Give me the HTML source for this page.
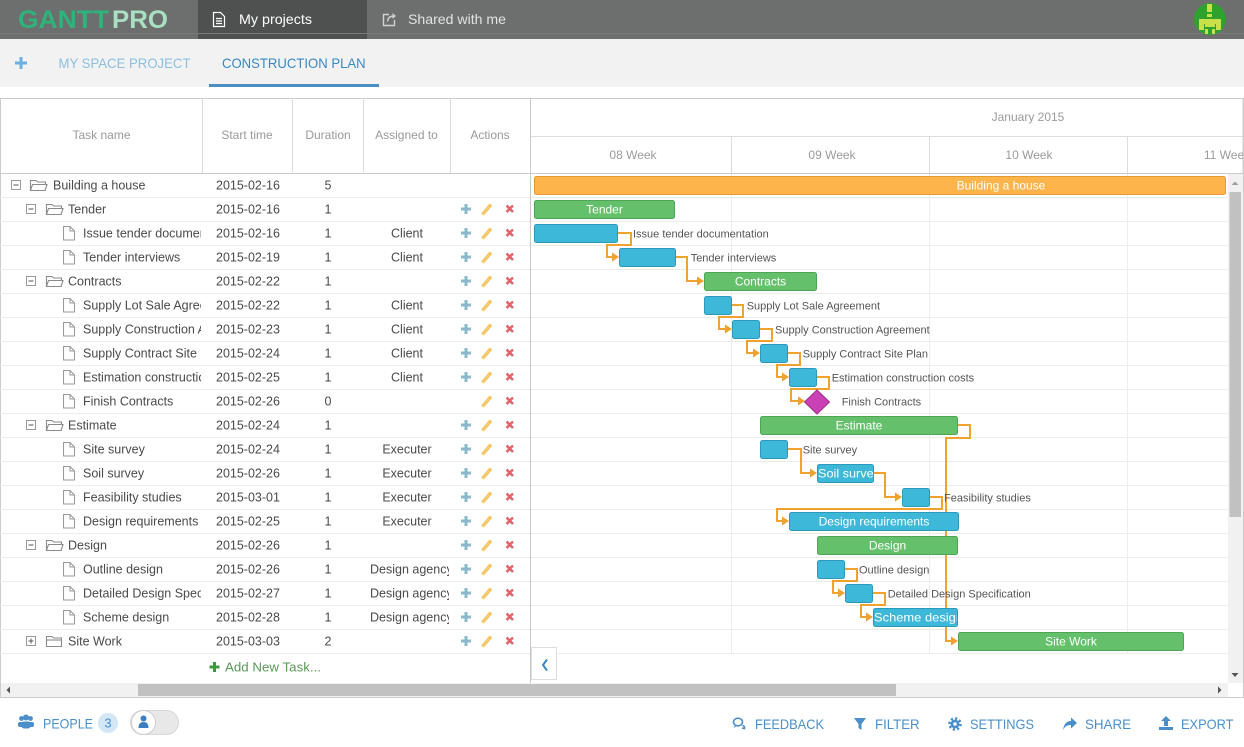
<!DOCTYPE html>
<html><head><meta charset="utf-8">
<style>
html,body{margin:0;padding:0;background:#fff;}
body{width:1244px;height:747px;overflow:hidden;}
svg{display:block;font-family:"Liberation Sans",Arial,sans-serif;}
.t{font-size:12.5px;fill:#4a4a4a}
.h{font-size:12px;fill:#9a9a9a}
.gl{font-size:11px;fill:#555}
.bt{font-size:12px;fill:#fff}
.tb{font-size:14px;fill:#4a8fca}
</style></head><body>
<svg width="1244" height="747" viewBox="0 0 1244 747" xmlns="http://www.w3.org/2000/svg">
<defs>
 <clipPath id="cName"><rect x="0" y="174" width="201" height="480"/></clipPath>
 <clipPath id="cAsg"><rect x="364" y="174" width="85" height="480"/></clipPath>
 <clipPath id="cGantt"><rect x="531" y="99" width="712" height="584"/></clipPath>
 <clipPath id="cSoil"><rect x="817" y="464" width="56.5" height="19"/></clipPath>
 <clipPath id="cScheme"><rect x="873" y="608" width="84" height="19"/></clipPath>
 <g id="file"><path d="M-5.5,-6.5 H1 L5.5,-2 V7 H-5.5 Z M1,-6.5 V-2 H5.5" fill="#fff" stroke="#9a9a9a" stroke-width="1.1" stroke-linejoin="round"/></g>
 <g id="fopen" fill="none" stroke="#8a8a8a" stroke-width="1.1"><path d="M0.5,5.5 V-4.5 H6 L7.5,-3 H15.5 V-0.5"/><path d="M0.5,5.5 L2.5,-0.5 H17 L15,5.5 Z"/></g>
 <g id="fclosed" fill="none" stroke="#8a8a8a" stroke-width="1.1"><path d="M0.5,5.5 V-4.5 H6 L7.5,-3 H15.5 V5.5 Z"/><path d="M0.5,-1 H15.5"/></g>
 <g id="tminus"><rect x="-4.5" y="-4.5" width="9" height="9" fill="#fff" stroke="#9a9a9a"/><path d="M-2.5,0 H2.5" stroke="#555"/></g>
 <g id="tplus"><rect x="-4.5" y="-4.5" width="9" height="9" fill="#fff" stroke="#9a9a9a"/><path d="M-2.5,0 H2.5 M0,-2.5 V2.5" stroke="#555"/></g>
 <g id="px">
  <path d="M482.5,5.5 L491,-4.5" stroke="#f6c66c" stroke-width="3.5"/>
  <path d="M506.5,-3.5 L513,3 M513,-3.5 L506.5,3" stroke="#e8626c" stroke-width="2.6"/>
 </g>
 <g id="act">
  <path d="M461,0 H471 M466,-5 V5" stroke="#8cb8cb" stroke-width="3"/>
  <use href="#px"/>
 </g>
</defs>

<!-- top bar -->
<rect x="0" y="0" width="1244" height="39" fill="#6d6f6f"/>
<rect x="198" y="0" width="169" height="39" fill="#4f5050"/>
<rect x="0" y="33" width="1244" height="1" fill="#787a7a"/>
<text x="18" y="28" font-size="25" font-weight="bold" fill="#2db37b" textLength="91" lengthAdjust="spacingAndGlyphs">GANTT</text>
<text x="112" y="28" font-size="25" font-weight="bold" fill="#a9dfc2" textLength="56" lengthAdjust="spacingAndGlyphs">PRO</text>
<g fill="none" stroke="#fff" stroke-width="1.2"><path d="M213.5,12.5 H220.5 L224.5,16.5 V26.5 H213.5 Z"/><path d="M216,18.5 H222 M216,21 H222 M216,23.5 H222"/></g>
<text x="239" y="24" font-size="14" fill="#fff" textLength="73" lengthAdjust="spacingAndGlyphs">My projects</text>
<g fill="none" stroke="#d0d0d0" stroke-width="1.4"><path d="M389,14.5 H383.5 V25.5 H394.5 V20"/><path d="M387.5,21.5 Q388,16 394,16"/></g>
<path d="M392.5,13 L396,16 L392.5,19 Z" fill="#d0d0d0"/>
<text x="408" y="24" font-size="14" fill="#e2e2e2" textLength="98" lengthAdjust="spacingAndGlyphs">Shared with me</text>
<circle cx="1210" cy="19" r="16" fill="#2fa12f"/>
<g fill="#c8e04a"><rect x="1207" y="4" width="5" height="8"/><rect x="1207" y="14" width="5" height="3"/><rect x="1199" y="19" width="22" height="5"/><rect x="1199" y="24" width="5" height="6"/><rect x="1216" y="24" width="5" height="6"/><rect x="1205" y="24" width="10" height="3"/><rect x="1205" y="29" width="3" height="5"/><rect x="1212" y="29" width="3" height="5"/></g>

<!-- tab bar -->
<rect x="0" y="39" width="1244" height="48" fill="#f2f2f2"/>
<rect x="15" y="61.5" width="12" height="3" fill="#6fb0de"/><rect x="19.5" y="57" width="3" height="12" fill="#6fb0de"/>
<text x="58.5" y="68" font-size="14" fill="#8bbfe0" textLength="132" lengthAdjust="spacingAndGlyphs">MY SPACE PROJECT</text>
<text x="222" y="68" font-size="14" fill="#3a88c0" textLength="143.6" lengthAdjust="spacingAndGlyphs">CONSTRUCTION PLAN</text>
<rect x="209" y="84" width="170" height="3" fill="#4a90c4"/>

<!-- grid frame -->
<rect x="0.5" y="98.5" width="1242.5" height="599" fill="#fff" stroke="#cccccc"/>
<g stroke="#dddddd"><path d="M202.5,98 V173 M292.5,98 V173 M363.5,98 V173 M450.5,98 V173"/></g>
<path d="M531,136.5 H1243" stroke="#dddddd"/>
<path d="M731.5,136 V173 M929.5,136 V173 M1127.5,136 V173" stroke="#dddddd"/>
<path d="M0,173.5 H1243" stroke="#cccccc"/>
<!-- body lines -->
<g stroke="#ececec">
<path d="M731.5,174 V653 M929.5,174 V653 M1127.5,174 V653"/>
<path d="M0,197.5 H1228 M0,221.5 H1228 M0,245.5 H1228 M0,269.5 H1228 M0,293.5 H1228 M0,317.5 H1228 M0,341.5 H1228 M0,365.5 H1228 M0,389.5 H1228 M0,413.5 H1228 M0,437.5 H1228 M0,461.5 H1228 M0,485.5 H1228 M0,509.5 H1228 M0,533.5 H1228 M0,557.5 H1228 M0,581.5 H1228 M0,605.5 H1228 M0,629.5 H1228 M0,653.5 H1228"/>
</g>
<path d="M530.5,98 V683" stroke="#c8c8c8"/>

<!-- header labels -->
<text class="h" x="101.5" y="139" text-anchor="middle">Task name</text>
<text class="h" x="247" y="139" text-anchor="middle">Start time</text>
<text class="h" x="328" y="139" text-anchor="middle">Duration</text>
<text class="h" x="406.5" y="139" text-anchor="middle">Assigned to</text>
<text class="h" x="490" y="139" text-anchor="middle">Actions</text>
<g clip-path="url(#cGantt)">
<text class="h" x="1028" y="121" text-anchor="middle">January 2015</text>
<text class="h" x="633" y="159" text-anchor="middle">08 Week</text>
<text class="h" x="832" y="159" text-anchor="middle">09 Week</text>
<text class="h" x="1029" y="159" text-anchor="middle">10 Week</text>
<text class="h" x="1227" y="159" text-anchor="middle">11 Week</text>
</g>

<!-- tree icons -->
<use href="#tminus" transform="translate(16,185)"/><use href="#fopen" transform="translate(30,185)"/>
<use href="#tminus" transform="translate(31,209)"/><use href="#fopen" transform="translate(46,209)"/>
<use href="#file" transform="translate(69,233)"/>
<use href="#file" transform="translate(69,257)"/>
<use href="#tminus" transform="translate(31,281)"/><use href="#fopen" transform="translate(46,281)"/>
<use href="#file" transform="translate(69,305)"/>
<use href="#file" transform="translate(69,329)"/>
<use href="#file" transform="translate(69,353)"/>
<use href="#file" transform="translate(69,377)"/>
<use href="#file" transform="translate(69,401)"/>
<use href="#tminus" transform="translate(31,425)"/><use href="#fopen" transform="translate(46,425)"/>
<use href="#file" transform="translate(69,449)"/>
<use href="#file" transform="translate(69,473)"/>
<use href="#file" transform="translate(69,497)"/>
<use href="#file" transform="translate(69,521)"/>
<use href="#tminus" transform="translate(31,545)"/><use href="#fopen" transform="translate(46,545)"/>
<use href="#file" transform="translate(69,569)"/>
<use href="#file" transform="translate(69,593)"/>
<use href="#file" transform="translate(69,617)"/>
<use href="#tplus" transform="translate(31,641)"/><use href="#fclosed" transform="translate(46,641)"/>

<!-- names -->
<g clip-path="url(#cName)">
<text class="t" x="53" y="189.5">Building a house</text>
<text class="t" x="68" y="213.5">Tender</text>
<text class="t" x="83" y="237.5">Issue tender documentation</text>
<text class="t" x="83" y="261.5">Tender interviews</text>
<text class="t" x="68" y="285.5">Contracts</text>
<text class="t" x="83" y="309.5">Supply Lot Sale Agreement</text>
<text class="t" x="83" y="333.5">Supply Construction Agreement</text>
<text class="t" x="83" y="357.5">Supply Contract Site Plan</text>
<text class="t" x="83" y="381.5">Estimation construction costs</text>
<text class="t" x="83" y="405.5">Finish Contracts</text>
<text class="t" x="68" y="429.5">Estimate</text>
<text class="t" x="83" y="453.5">Site survey</text>
<text class="t" x="83" y="477.5">Soil survey</text>
<text class="t" x="83" y="501.5">Feasibility studies</text>
<text class="t" x="83" y="525.5">Design requirements</text>
<text class="t" x="68" y="549.5">Design</text>
<text class="t" x="83" y="573.5">Outline design</text>
<text class="t" x="83" y="597.5">Detailed Design Specification</text>
<text class="t" x="83" y="621.5">Scheme design</text>
<text class="t" x="68" y="645.5">Site Work</text>
</g>
<!-- dates -->
<g>
<text class="t" x="216" y="189.5">2015-02-16</text>
<text class="t" x="216" y="213.5">2015-02-16</text>
<text class="t" x="216" y="237.5">2015-02-16</text>
<text class="t" x="216" y="261.5">2015-02-19</text>
<text class="t" x="216" y="285.5">2015-02-22</text>
<text class="t" x="216" y="309.5">2015-02-22</text>
<text class="t" x="216" y="333.5">2015-02-23</text>
<text class="t" x="216" y="357.5">2015-02-24</text>
<text class="t" x="216" y="381.5">2015-02-25</text>
<text class="t" x="216" y="405.5">2015-02-26</text>
<text class="t" x="216" y="429.5">2015-02-24</text>
<text class="t" x="216" y="453.5">2015-02-24</text>
<text class="t" x="216" y="477.5">2015-02-26</text>
<text class="t" x="216" y="501.5">2015-03-01</text>
<text class="t" x="216" y="525.5">2015-02-25</text>
<text class="t" x="216" y="549.5">2015-02-26</text>
<text class="t" x="216" y="573.5">2015-02-26</text>
<text class="t" x="216" y="597.5">2015-02-27</text>
<text class="t" x="216" y="621.5">2015-02-28</text>
<text class="t" x="216" y="645.5">2015-03-03</text>
</g>
<!-- durations -->
<g text-anchor="middle">
<text class="t" x="328" y="189.5">5</text>
<text class="t" x="328" y="213.5">1</text>
<text class="t" x="328" y="237.5">1</text>
<text class="t" x="328" y="261.5">1</text>
<text class="t" x="328" y="285.5">1</text>
<text class="t" x="328" y="309.5">1</text>
<text class="t" x="328" y="333.5">1</text>
<text class="t" x="328" y="357.5">1</text>
<text class="t" x="328" y="381.5">1</text>
<text class="t" x="328" y="405.5">0</text>
<text class="t" x="328" y="429.5">1</text>
<text class="t" x="328" y="453.5">1</text>
<text class="t" x="328" y="477.5">1</text>
<text class="t" x="328" y="501.5">1</text>
<text class="t" x="328" y="525.5">1</text>
<text class="t" x="328" y="549.5">1</text>
<text class="t" x="328" y="573.5">1</text>
<text class="t" x="328" y="597.5">1</text>
<text class="t" x="328" y="621.5">1</text>
<text class="t" x="328" y="645.5">2</text>
<text class="t" x="407" y="237.5">Client</text>
<text class="t" x="407" y="261.5">Client</text>
<text class="t" x="407" y="309.5">Client</text>
<text class="t" x="407" y="333.5">Client</text>
<text class="t" x="407" y="357.5">Client</text>
<text class="t" x="407" y="381.5">Client</text>
<text class="t" x="407" y="453.5">Executer</text>
<text class="t" x="407" y="477.5">Executer</text>
<text class="t" x="407" y="501.5">Executer</text>
<text class="t" x="407" y="525.5">Executer</text>
</g>
<g clip-path="url(#cAsg)">
<text class="t" x="370" y="573.5">Design agency</text>
<text class="t" x="370" y="597.5">Design agency</text>
<text class="t" x="370" y="621.5">Design agency</text>
</g>
<!-- actions -->
<use href="#act" transform="translate(0,209)"/>
<use href="#act" transform="translate(0,233)"/>
<use href="#act" transform="translate(0,257)"/>
<use href="#act" transform="translate(0,281)"/>
<use href="#act" transform="translate(0,305)"/>
<use href="#act" transform="translate(0,329)"/>
<use href="#act" transform="translate(0,353)"/>
<use href="#act" transform="translate(0,377)"/>
<use href="#px" transform="translate(0,401)"/>
<use href="#act" transform="translate(0,425)"/>
<use href="#act" transform="translate(0,449)"/>
<use href="#act" transform="translate(0,473)"/>
<use href="#act" transform="translate(0,497)"/>
<use href="#act" transform="translate(0,521)"/>
<use href="#act" transform="translate(0,545)"/>
<use href="#act" transform="translate(0,569)"/>
<use href="#act" transform="translate(0,593)"/>
<use href="#act" transform="translate(0,617)"/>
<use href="#act" transform="translate(0,641)"/>

<!-- add new task -->
<path d="M209.5,667 H219.5 M214.5,662 V672" stroke="#3d9a3d" stroke-width="3"/>
<text x="225" y="671.5" font-size="12.5" fill="#5a9a55" textLength="96" lengthAdjust="spacingAndGlyphs">Add New Task...</text>

<!-- connectors -->
<g fill="none" stroke="#f0a22e" stroke-width="2">
<path d="M618,233 H631 V245 H607 V257 H614"/>
<path d="M676,257 H687 V281 H699"/>
<path d="M732,305 H743 V317 H719 V329 H727"/>
<path d="M760,329 H772 V341 H747 V353 H755"/>
<path d="M788,353 H800 V365 H777 V377 H784"/>
<path d="M817,377 H829 V389 H791 V401 H800"/>
<path d="M788,449 H801 V473 H812"/>
<path d="M874,473 H885 V497 H897"/>
<path d="M930,497 H942 V509 H777 V521 H784"/>
<path d="M958,425 H970 V438 H946 V641 H953"/>
<path d="M845,569 H857 V581 H833 V593 H840"/>
<path d="M873,593 H885 V605 H861 V617 H868"/>
</g>
<g fill="#f0a22e">
<polygon points="619,257 612,252.5 612,261.5"/>
<polygon points="704,281 697,276.5 697,285.5"/>
<polygon points="732,329 725,324.5 725,333.5"/>
<polygon points="760,353 753,348.5 753,357.5"/>
<polygon points="789,377 782,372.5 782,381.5"/>
<polygon points="805,401 798,396.5 798,405.5"/>
<polygon points="817,473 810,468.5 810,477.5"/>
<polygon points="902,497 895,492.5 895,501.5"/>
<polygon points="789,521 782,516.5 782,525.5"/>
<polygon points="958,641 951,636.5 951,645.5"/>
<polygon points="845,593 838,588.5 838,597.5"/>
<polygon points="873,617 866,612.5 866,621.5"/>
</g>

<!-- bars -->
<g stroke-width="1">
<rect x="534.5" y="176.5" width="691" height="18" rx="2" fill="#fdb44b" stroke="#e39b30"/>
<g fill="#65c06b" stroke="#4ea554">
<rect x="534.5" y="200.5" width="140" height="18" rx="2"/>
<rect x="704.5" y="272.5" width="112" height="18" rx="2"/>
<rect x="760.5" y="416.5" width="197" height="18" rx="2"/>
<rect x="817.5" y="536.5" width="140" height="18" rx="2"/>
<rect x="958.5" y="632.5" width="225" height="18" rx="2"/>
</g>
<g fill="#3db8d9" stroke="#2c9bbb">
<rect x="534.5" y="224.5" width="83" height="18" rx="2"/>
<rect x="619.5" y="248.5" width="56" height="18" rx="2"/>
<rect x="704.5" y="296.5" width="27" height="18" rx="2"/>
<rect x="732.5" y="320.5" width="27" height="18" rx="2"/>
<rect x="760.5" y="344.5" width="27" height="18" rx="2"/>
<rect x="789.5" y="368.5" width="27" height="18" rx="2"/>
<rect x="760.5" y="440.5" width="27" height="18" rx="2"/>
<rect x="817.5" y="464.5" width="56" height="18" rx="2"/>
<rect x="902.5" y="488.5" width="27" height="18" rx="2"/>
<rect x="789.5" y="512.5" width="169" height="18" rx="2"/>
<rect x="817.5" y="560.5" width="27" height="18" rx="2"/>
<rect x="845.5" y="584.5" width="27" height="18" rx="2"/>
<rect x="873.5" y="608.5" width="84" height="18" rx="2"/>
</g>
<polygon points="817,390 829.5,402 817,414 804.5,402" fill="#c941b5" stroke="#9a2e8a"/>
</g>
<!-- bar texts -->
<g text-anchor="middle">
<text class="bt" x="1001" y="189.5">Building a house</text>
<text class="bt" x="604.5" y="213.5">Tender</text>
<text class="bt" x="760.5" y="285.5">Contracts</text>
<text class="bt" x="859" y="429.5">Estimate</text>
<text class="bt" x="874" y="525.5">Design requirements</text>
<text class="bt" x="887.5" y="549.5">Design</text>
<text class="bt" x="1071" y="645.5">Site Work</text>
</g>
<text class="bt" x="818" y="477.5" clip-path="url(#cSoil)" textLength="62" lengthAdjust="spacingAndGlyphs">Soil survey</text>
<text class="bt" x="874" y="621.5" clip-path="url(#cScheme)" textLength="89" lengthAdjust="spacingAndGlyphs">Scheme design</text>
<!-- gantt labels -->
<text class="gl" x="633" y="237.5">Issue tender documentation</text>
<text class="gl" x="690.7" y="261.5">Tender interviews</text>
<text class="gl" x="746.7" y="309.5">Supply Lot Sale Agreement</text>
<text class="gl" x="775" y="333.5">Supply Construction Agreement</text>
<text class="gl" x="802.7" y="357.5">Supply Contract Site Plan</text>
<text class="gl" x="831.7" y="381.5">Estimation construction costs</text>
<text class="gl" x="841.7" y="405.5">Finish Contracts</text>
<text class="gl" x="802.7" y="453.5">Site survey</text>
<text class="gl" x="944" y="501.5">Feasibility studies</text>
<text class="gl" x="859" y="573.5">Outline design</text>
<text class="gl" x="887.7" y="597.5">Detailed Design Specification</text>

<!-- scrollbars -->
<rect x="1228" y="174" width="15" height="509" fill="#f1f1f1"/>
<rect x="1229.5" y="192" width="11.5" height="325" fill="#c1c1c1"/>
<polygon points="1231.5,185 1238.5,185 1235,181.5" fill="#a0a0a0"/>
<polygon points="1231.5,673 1238.5,673 1235,677" fill="#555"/>
<rect x="1" y="683" width="1227" height="14" fill="#f1f1f1"/>
<rect x="138" y="684" width="758" height="12" fill="#c1c1c1"/>
<polygon points="10,686.5 10,693.5 6.5,690" fill="#555"/>
<polygon points="1218,686.5 1218,693.5 1221.5,690" fill="#555"/>
<rect x="1228" y="683" width="15" height="14" fill="#fff"/>
<path d="M0,697.5 H1244" stroke="#cccccc"/>
<path d="M1243.5,98 V698" stroke="#cccccc"/>

<!-- collapse button -->
<rect x="531.5" y="647.5" width="25" height="32" fill="#fff" stroke="#dddddd"/>
<polyline points="547,659.5 543,665 547,670.5" fill="none" stroke="#3a88c0" stroke-width="2"/>

<!-- bottom toolbar -->
<g fill="#4a8fca">
<circle cx="21.5" cy="718.5" r="2.4"/><circle cx="30.5" cy="718.5" r="2.4"/><circle cx="26" cy="717.5" r="3"/>
<rect x="18" y="722" width="7" height="5" rx="2"/><rect x="27" y="722" width="7" height="5" rx="2"/><rect x="21.5" y="721.5" width="9" height="7" rx="2.5"/>
</g>
<text class="tb" x="43" y="728.5" textLength="50" lengthAdjust="spacingAndGlyphs">PEOPLE</text>
<circle cx="108" cy="723" r="10" fill="#d3e7f6"/>
<text x="108" y="727.5" font-size="13" fill="#4a8fca" text-anchor="middle">3</text>
<rect x="130.5" y="710.5" width="48" height="24" rx="12" fill="#e8e8e8" stroke="#d8d8d8"/>
<circle cx="143.5" cy="722.5" r="12" fill="#fff" stroke="#cfcfcf"/>
<circle cx="143.5" cy="718.5" r="3" fill="#3a7fc0"/>
<path d="M138.5,728 Q138.5,722 143.5,722 Q148.5,722 148.5,728 Z" fill="#3a7fc0"/>

<g fill="none" stroke="#4a8fca" stroke-width="1.6">
<ellipse cx="738" cy="722" rx="4.5" ry="3.8"/>
<path d="M742.5,725.5 Q745,726 744.5,728.5 L742,728"/>
</g>
<path d="M735,725 L733.5,728 L737.5,725.5 Z" fill="#4a8fca"/>
<text class="tb" x="755" y="729" textLength="69" lengthAdjust="spacingAndGlyphs">FEEDBACK</text>
<polygon points="854,718 866,718 861.5,724 861.5,730 858.5,728 858.5,724" fill="#4a8fca"/>
<text class="tb" x="875" y="729" textLength="44.6" lengthAdjust="spacingAndGlyphs">FILTER</text>
<circle cx="955" cy="724" r="5.5" fill="none" stroke="#4a8fca" stroke-width="2.6" stroke-dasharray="2.2 2.1"/>
<circle cx="955" cy="724" r="4.4" fill="#4a8fca"/>
<circle cx="955" cy="724" r="1.8" fill="#fff"/>
<text class="tb" x="970" y="729" textLength="64" lengthAdjust="spacingAndGlyphs">SETTINGS</text>
<path d="M1063,730 C1064,723 1067.5,721 1071,721 V717.5 L1077,723 L1071,728.5 V725 C1067.5,725 1065,726 1063,730 Z" fill="#4a8fca"/>
<text class="tb" x="1085" y="729" textLength="46" lengthAdjust="spacingAndGlyphs">SHARE</text>
<path d="M1166,716 L1171,721 H1168 V726 H1164 V721 H1161 Z" fill="#4a8fca"/>
<rect x="1159" y="727" width="14" height="3" fill="#4a8fca"/>
<text class="tb" x="1181" y="729" textLength="52.5" lengthAdjust="spacingAndGlyphs">EXPORT</text>
</svg>
</body></html>
